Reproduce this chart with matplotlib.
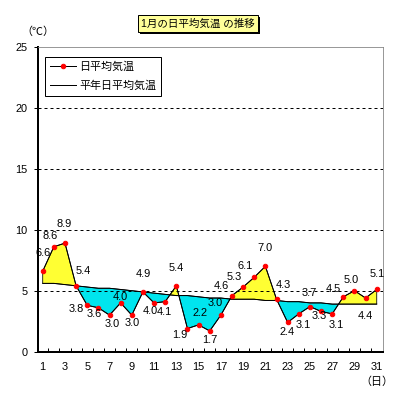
import matplotlib
matplotlib.use("Agg")
import matplotlib.pyplot as plt
import matplotlib.patheffects as pe
import numpy as np

plt.rcParams["font.family"] = ["Liberation Sans", "Noto Sans CJK JP", "DejaVu Sans"]

days = np.arange(1, 32)
temp = [6.6, 8.6, 8.9, 5.4, 3.8, 3.6, 3.0, 4.0, 3.0, 4.9, 4.0, 4.1, 5.4, 1.9, 2.2, 1.7,
        3.0, 4.6, 5.3, 6.1, 7.0, 4.3, 2.4, 3.1, 3.7, 3.3, 3.1, 4.5, 5.0, 4.4, 5.1]
normal = [5.6, 5.6, 5.5, 5.4, 5.3, 5.2, 5.2, 5.1, 5.0, 4.9, 4.8, 4.7, 4.6, 4.6, 4.5, 4.4,
          4.4, 4.3, 4.3, 4.3, 4.2, 4.2, 4.1, 4.1, 4.0, 4.0, 3.9, 3.9, 3.9, 3.9, 3.9]

# ラベルの位置 (px, 上が正)
offs = [(0, 18), (-4, 11), (-1, 19), (7, 15), (-11, -4), (-4, -6), (3, -9), (0, 6),
        (0, -8), (0, 18), (-4, -8), (-1, -10), (0, 18), (-8, -6), (1, 12), (0, -9),
        (-6, 12), (-11, 10), (-9, 10), (-9, 11), (0, 18), (7, 14), (-1, -10), (4, -11),
        (-1, 14), (-2, -5), (4, -11), (-10, 8), (-3, 11), (0, -18), (0, 15)]

fig = plt.figure(figsize=(399 / 72, 400 / 72), dpi=72)
ax = fig.add_axes([37.7 / 399, 48.3 / 400, 345.6 / 399, 305 / 400])

t = np.array(temp)
n = np.array(normal)
ax.fill_between(days, t, n, where=t >= n, interpolate=True, facecolor="#ffff33",
                edgecolor="black", linewidth=0.8)
ax.fill_between(days, t, n, where=t <= n, interpolate=True, facecolor="#00e5ee",
                edgecolor="black", linewidth=0.8)
ax.plot(days, normal, color="black", lw=1, label="平年日平均気温", zorder=3)
ax.plot(days, temp, color="black", lw=1, marker="o", ms=4.5, mfc="red", mec="red",
        label="日平均気温", zorder=4)

for d, v, (dx, dy) in zip(days, temp, offs):
    ax.annotate(f"{v:.1f}", (d, v), xytext=(dx, dy), textcoords="offset points",
                ha="center", va="center", fontsize=11, zorder=5)

ax.set_xlim(0.55, 31.59)
ax.set_ylim(0, 25)
ax.set_yticks([0, 5, 10, 15, 20, 25])
ax.set_xticks(np.arange(1, 32, 2))
ax.set_xticks(np.arange(1.5, 31, 1), minor=True)
ax.tick_params(axis="x", which="major", length=0, pad=10, labelsize=11)
ax.tick_params(axis="x", which="minor", direction="in", length=4, width=1)
ax.tick_params(axis="y", direction="out", length=4, width=1, labelsize=11, pad=6)
for y in [5, 10, 15, 20]:
    ax.axhline(y, color="black", lw=1, ls=(0, (3, 3)), zorder=1)

ax.spines["left"].set_linewidth(2)
ax.spines["bottom"].set_linewidth(2)
ax.spines["top"].set_color("#808080")
ax.spines["right"].set_color("#808080")

h, l = ax.get_legend_handles_labels()
leg = ax.legend(h[::-1], l[::-1], loc="upper left", bbox_to_anchor=(7 / 345.6, 1 - 10 / 305),
                borderaxespad=0, fontsize=11, fancybox=False, edgecolor="black", framealpha=1,
                handlelength=2.4, handletextpad=0.3, borderpad=0.45, labelspacing=0.75)
leg.get_frame().set_linewidth(1)

fig.text(38 / 399, 1 - 32 / 400, "（℃）", ha="center", va="center", fontsize=11)
fig.text(377 / 399, 1 - 382 / 400, "（日）", ha="center", va="center", fontsize=11)

ttl = fig.text(198 / 399, 1 - 23.5 / 400, "1月の日平均気温 の推移", ha="center", va="center",
               fontsize=10.5, bbox=dict(boxstyle="square,pad=0.3", fc="#ffff99", ec="black", lw=1))
ttl.get_bbox_patch().set_path_effects([pe.SimplePatchShadow(offset=(2, -2), shadow_rgbFace="black", alpha=1),
                                       pe.Normal()])

fig.savefig("out.png", dpi=72)
